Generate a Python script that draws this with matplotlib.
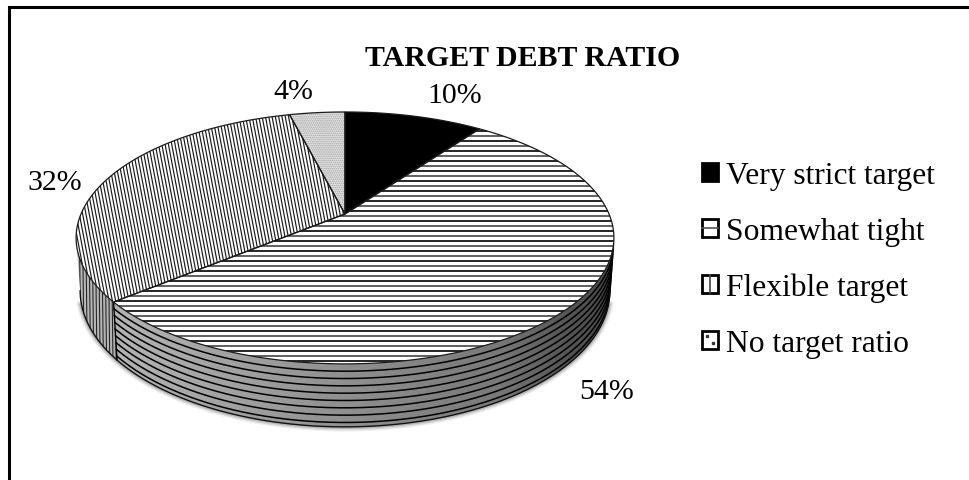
import numpy as np
import matplotlib
matplotlib.use("Agg")
import matplotlib.pyplot as plt
from matplotlib.patches import Patch, Polygon, Rectangle
from matplotlib.lines import Line2D
from matplotlib.legend_handler import HandlerBase

categories = ["Very strict target", "Somewhat tight", "Flexible target", "No target ratio"]
shares = [10, 54, 32, 4]
title = "TARGET DEBT RATIO"

plt.rcParams["font.family"] = ["Liberation Serif"]
plt.rcParams["hatch.linewidth"] = 0.8

fig = plt.figure(figsize=(9.69, 4.81), dpi=100)
ax = fig.add_axes([0, 0, 1, 1])
ax.set_xlim(0, 969)
ax.set_ylim(481, 0)
ax.axis("off")

# perspective disc projection
CX, CY, A, B, K = 345.0, 215.0, 264.0, 121.4, 0.19
def rim(theta):
    t = np.radians(theta)
    u, v = np.sin(t), np.cos(t)
    w = 1 + K * v
    return CX + A * u / w, CY - B * v / w
def low(theta):
    x, y = rim(theta)
    return CX + (x - CX) * 0.985, CY + 51 + (y - CY) * 1.08
def arc(f, a, b, n=200):
    x, y = f(np.linspace(a, b, n))
    return np.column_stack([x, y])

edges = np.concatenate([[0], np.cumsum(shares)]) * 3.6
ang = {c: (edges[i], edges[i + 1]) for i, c in enumerate(categories)}
apex = np.array([[CX, CY]])
wedge = {c: np.vstack([apex, arc(rim, *ang[c])]) for c in categories}
TR = 90 + np.degrees(np.arcsin(K))
TL = 270 - np.degrees(np.arcsin(K))

# frame
ax.plot([9, 9, 969], [481, 8, 8], color="black", lw=2.2, solid_joinstyle="miter", zorder=1)

# soft shadow
for lw, al in [(7, .06), (5, .10), (3, .16)]:
    ax.plot(*arc(low, TR + 6, TL - 6).T, color="black", lw=lw, alpha=al, zorder=1.5)

# walls
def wall(a, b):
    return np.vstack([arc(rim, a, b), arc(low, a, b)[::-1]])
split = ang["Somewhat tight"][1]
grad = np.interp(np.linspace(70, 620, 300), [70, 120, 350, 500, 570, 620],
                 [.72, .70, .56, .47, .33, .28])[None, :]
wall_54 = Polygon(wall(TR, split), closed=True, transform=ax.transData, fc="none", ec="none")
wall_32 = Polygon(wall(split, TL), closed=True, transform=ax.transData, fc="none", ec="none")
ax.add_patch(wall_54); ax.add_patch(wall_32)
for p in (wall_54, wall_32):
    im = ax.imshow(grad, extent=[70, 620, 481, 0], cmap="gray", vmin=0, vmax=1,
                   aspect="auto", zorder=2)
    im.set_clip_path(p)
ax.set_xlim(0, 969); ax.set_ylim(481, 0)
for f in np.arange(1, 9) / 8.6:
    r, l = arc(rim, TR, split), arc(low, TR, split)
    ax.plot(*(r + (l - r) * f).T, color="black", lw=1.1, zorder=3)
for xv in np.arange(76, 122, 3.2):
    ln, = ax.plot([xv, xv + 2], [220, 380], color="#222222", lw=0.75, zorder=3)
    ln.set_clip_path(wall_32)
ax.plot([rim(split)[0], low(split)[0]], [rim(split)[1], low(split)[1]], color="black", lw=1, zorder=4)
ax.plot(*arc(low, TR, TL).T, color="#111111", lw=1, zorder=4)

# top faces
faces = {}
fills = ["black", "white", "white", "#e6e6e6"]
for c, fc in zip(categories, fills):
    faces[c] = Polygon(wedge[c], closed=True, fc=fc, ec="none", zorder=5)
    ax.add_patch(faces[c])

# horizontal ruling of the 54% slice
for i, yv in enumerate(np.arange(112, 370, 5.0)):
    col = "black" if i % 2 == 0 else "#444444"
    ln, = ax.plot([60, 630], [yv, yv], color=col, lw=1.2, zorder=6)
    ln.set_clip_path(faces["Somewhat tight"])

# slanted ruling of the 32% slice
for xv in np.arange(0, 420, 3.3):
    ln, = ax.plot([xv, xv + 38], [110, 310], color="#1a1a1a", lw=0.85, zorder=6)
    ln.set_clip_path(faces["Flexible target"])

# stipple of the 4% slice
st = Polygon(wedge["No target ratio"], closed=True, fc="none", ec="#a0a0a0", lw=0, hatch="........", zorder=6)
ax.add_patch(st)

# outlines
for c in categories:
    ax.add_patch(Polygon(wedge[c], closed=True, fc="none", ec="#1a1a1a", lw=0.9, zorder=7))

# text
ax.text(523, 59, title, fontsize=21.5, fontweight="bold", ha="center", va="center", zorder=8)
pos = [(455, 96), (607, 392), (55, 183), (293, 92)]
for v, (x, y) in zip(shares, pos):
    ax.text(x, y, f"{v}%", fontsize=21.5, ha="center", va="center", zorder=8)

# legend
class Key(HandlerBase):
    def __init__(self, kind):
        super().__init__()
        self.kind = kind
    def create_artists(self, legend, orig, xd, yd, w, h, fs, trans):
        box = Rectangle((-xd, -yd), w, h, fc="black" if self.kind == "s" else "white",
                        ec="black", lw=2, transform=trans)
        out = [box]
        x0, y0 = -xd, -yd
        if self.kind == "h":
            out.append(Line2D([x0, x0 + w], [y0 + h / 2] * 2, color="#555555", lw=1.2, transform=trans))
        elif self.kind == "v":
            out.append(Line2D([x0 + w / 2] * 2, [y0, y0 + h], color="#444444", lw=1.2, transform=trans))
        elif self.kind == "d":
            out.append(Line2D([x0 + w * .3, x0 + w * .7], [y0 + h * .68, y0 + h * .3], ls="none",
                              marker="s", ms=1.4, color="#333333", transform=trans))
        return out

handles = [Patch(label=c) for c in categories]
hmap = dict(zip(handles, [Key("s"), Key("h"), Key("v"), Key("d")]))
ax.legend(handles, categories, handler_map=hmap, loc="upper left",
          bbox_to_anchor=(702 / 969, 1 - 162 / 481), bbox_transform=fig.transFigure,
          frameon=False, fontsize=22.7, handlelength=0.5, handleheight=0.5,
          handletextpad=0.27, labelspacing=0.85, borderpad=0, borderaxespad=0)

fig.savefig("out.png", dpi=100)
